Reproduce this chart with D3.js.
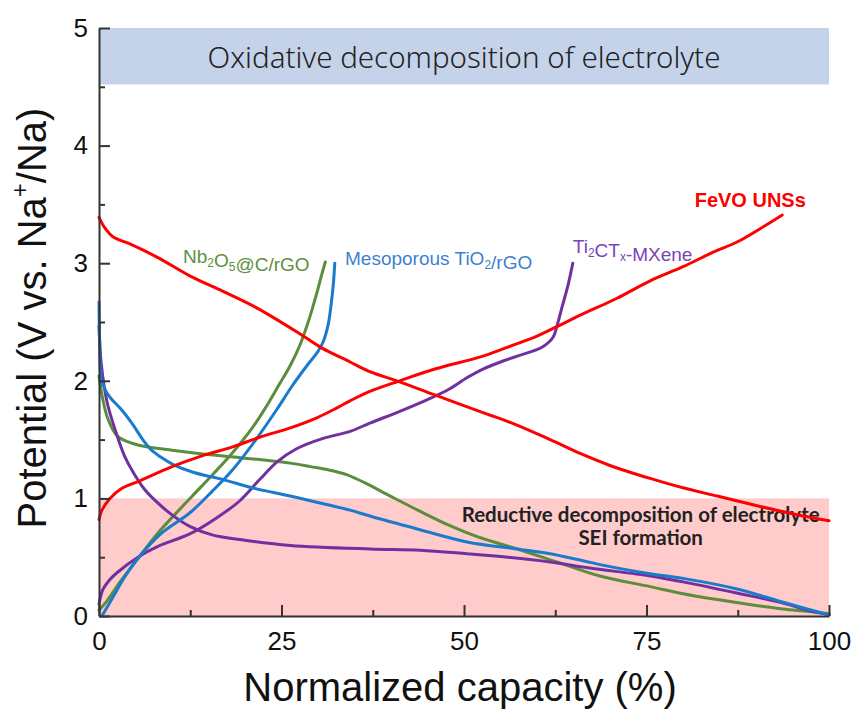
<!DOCTYPE html>
<html>
<head>
<meta charset="utf-8">
<script src="https://cdn.jsdelivr.net/npm/d3@7/dist/d3.min.js"></script>
<style>
  body { margin: 0; background: #fff; }
  svg { display: block; }
</style>
</head>
<body>
<div id="chart"></div>
<script>
// capacity (%) vs potential (V) pairs
const feVoDischarge = [[0,3.39],[0.8,3.30],[2,3.22],[4,3.17],[8,3.05],[12.5,2.89],[17,2.76],[21.6,2.62],[27.5,2.40],[30.5,2.28],[34.4,2.16],[37,2.08],[40.8,2.00],[46,1.88],[52.6,1.73],[57,1.63],[61.8,1.50],[66,1.38],[70,1.28],[75.5,1.17],[80,1.09],[84.7,1.02],[90,0.94],[95,0.87],[100,0.81]];
const feVoCharge = [[0,0.82],[0.4,0.90],[1.5,1.00],[3,1.08],[5.6,1.15],[10,1.27],[14,1.36],[18.4,1.44],[22,1.52],[26.2,1.60],[30,1.69],[32.6,1.77],[34.4,1.83],[37.1,1.91],[41.2,2.00],[46,2.10],[52.6,2.21],[57,2.31],[60,2.38],[62.7,2.46],[66,2.56],[70.9,2.70],[75.5,2.85],[80,2.97],[84,3.09],[87.4,3.18],[91,3.31],[93.6,3.41]];
const nbDischarge = [[0,2.04],[0.5,1.85],[1.2,1.68],[2.5,1.53],[4,1.48],[5.6,1.45],[10,1.41],[17,1.36],[22,1.33],[26.2,1.30],[29,1.27],[31.6,1.24],[34,1.20],[36.5,1.13],[39.9,1.02],[44,0.89],[48,0.77],[52,0.67],[57.3,0.57],[62.7,0.46],[68.6,0.34],[75.5,0.25],[80,0.19],[84.7,0.14],[90,0.09],[93.7,0.06],[97,0.04],[100,0.02]];
const nbCharge = [[0,0.05],[1,0.12],[3,0.30],[5.6,0.51],[8,0.70],[11.1,0.91],[14,1.10],[17.9,1.36],[21,1.60],[23,1.79],[24.7,1.97],[26.2,2.13],[27.5,2.30],[28.5,2.47],[29.3,2.63],[29.9,2.76],[30.5,2.90],[31,3.01]];
const tioDischarge = [[0,2.67],[0.1,2.30],[0.3,2.02],[0.8,1.93],[1.5,1.86],[3,1.76],[4.5,1.64],[6,1.50],[7.2,1.41],[8.5,1.35],[10.1,1.29],[13,1.22],[17,1.16],[21,1.09],[26.2,1.02],[31,0.95],[34.4,0.90],[37.1,0.85],[43.6,0.74],[50.4,0.63],[57.3,0.57],[61.8,0.53],[66.3,0.47],[70,0.42],[75.5,0.36],[80,0.32],[87.4,0.23],[93,0.13],[97,0.06],[100,0.01]];
const tioCharge = [[0.5,0.01],[2,0.17],[3.5,0.33],[5.6,0.51],[8.5,0.70],[12.5,0.88],[15.5,1.06],[18.4,1.25],[21.5,1.50],[24.4,1.76],[26.5,1.96],[28.5,2.13],[30,2.25],[30.7,2.33],[31.4,2.48],[31.8,2.65],[32.1,2.82],[32.3,3.00]];
const mxDischarge = [[0,2.47],[0.3,2.15],[1.1,1.82],[2.5,1.53],[3.5,1.36],[4.7,1.22],[6.2,1.08],[7.9,0.97],[10,0.86],[12.5,0.76],[15.5,0.69],[19.3,0.65],[26.2,0.60],[37.1,0.57],[44,0.56],[50.4,0.53],[56,0.50],[61.8,0.46],[67,0.41],[75.5,0.34],[80,0.29],[87,0.20],[93.7,0.11],[97,0.05],[100,0.01]];
const mxCharge = [[0,0.10],[0.5,0.22],[1.5,0.31],[2.5,0.37],[5.6,0.51],[8,0.59],[12.5,0.70],[16,0.83],[19.3,0.98],[22,1.16],[24.4,1.31],[27,1.42],[30.7,1.51],[34.4,1.57],[37.1,1.64],[41.2,1.74],[45,1.84],[48,1.93],[50.5,2.03],[52.6,2.10],[55,2.16],[57.3,2.21],[60.8,2.29],[62.2,2.37],[62.8,2.48],[63.4,2.62],[64.2,2.80],[64.9,3.00]];

const xTicks = [0, 25, 50, 75, 100];
const xMinor = [12.5, 37.5, 62.5, 87.5];
const yTicks = [0, 1, 2, 3, 4, 5];
const yMinor = [0.5, 1.5, 2.5, 3.5, 4.5];
const oxidBand = [4.52, 5];
const reducBand = [0, 1];

const W = 853, H = 709;
const x = d3.scaleLinear().domain([0, 100]).range([99, 829]);
const y = d3.scaleLinear().domain([0, 5]).range([616, 28]);

const svg = d3.select("#chart").append("svg")
  .attr("width", W).attr("height", H);

const sans = "Arial, 'Liberation Sans', sans-serif";

// shaded regions
svg.append("rect")
  .attr("x", x(0)).attr("width", x(100) - x(0))
  .attr("y", y(oxidBand[1])).attr("height", y(oxidBand[0]) - y(oxidBand[1]))
  .attr("fill", "#c5d3ea");
svg.append("rect")
  .attr("x", x(0)).attr("width", x(100) - x(0))
  .attr("y", y(reducBand[1])).attr("height", y(reducBand[0]) - y(reducBand[1]))
  .attr("fill", "#ffcbcb");

svg.append("text")
  .attr("x", x(50)).attr("y", y(4.76))
  .attr("text-anchor", "middle").attr("dominant-baseline", "central")
  .attr("font-family", "'Noto Sans', sans-serif").attr("font-weight", 300)
  .attr("font-size", 29.5).attr("fill", "#222")
  .text("Oxidative decomposition of electrolyte");

const red = svg.append("text")
  .attr("text-anchor", "middle")
  .attr("font-family", "Lato, 'Open Sans', sans-serif").attr("font-weight", 700)
  .attr("font-size", 20.5).attr("fill", "#222");
red.append("tspan").attr("x", x(74.2)).attr("y", y(0.80)).text("Reductive decomposition of electrolyte");
red.append("tspan").attr("x", x(74.2)).attr("y", y(0.60)).text("SEI formation");

// curves
const line = d3.line()
  .x(d => x(d[0])).y(d => y(d[1]))
  .curve(d3.curveCatmullRom.alpha(0.5));

const series = [
  { data: nbDischarge, color: "#5b8e3c" },
  { data: nbCharge, color: "#5b8e3c" },
  { data: mxDischarge, color: "#7030a0" },
  { data: mxCharge, color: "#7030a0" },
  { data: tioDischarge, color: "#1a7bcc" },
  { data: tioCharge, color: "#1a7bcc" },
  { data: feVoDischarge, color: "#ff0000" },
  { data: feVoCharge, color: "#ff0000" }
];

svg.append("g")
  .selectAll("path")
  .data(series)
  .join("path")
  .attr("d", d => line(d.data))
  .attr("fill", "none")
  .attr("stroke", d => d.color)
  .attr("stroke-width", 3)
  .attr("stroke-linejoin", "round")
  .attr("stroke-linecap", "round");

// axes, ticks pointing inward
const styleAxis = g => {
  g.selectAll(".domain").attr("stroke", "#333").attr("stroke-width", 2);
  g.selectAll(".tick line").attr("stroke", "#333").attr("stroke-width", 2);
  g.selectAll(".tick text").attr("font-family", sans).attr("font-size", 26).attr("fill", "#111");
};

svg.append("g")
  .attr("transform", `translate(0,${y(0)})`)
  .call(d3.axisBottom(x).tickValues(xMinor).tickSize(-6).tickFormat(""))
  .call(g => g.select(".domain").remove())
  .call(styleAxis);
svg.append("g")
  .attr("transform", `translate(${x(0)},0)`)
  .call(d3.axisLeft(y).tickValues(yMinor).tickSize(-6).tickFormat(""))
  .call(g => g.select(".domain").remove())
  .call(styleAxis);

svg.append("g")
  .attr("transform", `translate(0,${y(0)})`)
  .call(d3.axisBottom(x).tickValues(xTicks).tickSize(-11).tickSizeOuter(0).tickPadding(16).tickFormat(d3.format("d")))
  .call(styleAxis);
svg.append("g")
  .attr("transform", `translate(${x(0)},0)`)
  .call(d3.axisLeft(y).tickValues(yTicks).tickSize(-11).tickSizeOuter(0).tickPadding(11).tickFormat(d3.format("d")))
  .call(styleAxis);

// axis titles
svg.append("text")
  .attr("x", 460).attr("y", 701)
  .attr("text-anchor", "middle")
  .attr("font-family", sans).attr("font-size", 40).attr("fill", "#111")
  .text("Normalized capacity (%)");

const yt = svg.append("text")
  .attr("transform", `translate(46,318) rotate(-90)`)
  .attr("text-anchor", "middle")
  .attr("font-family", sans).attr("font-size", 40).attr("fill", "#111");
yt.append("tspan").text("Potential (V vs. Na");
yt.append("tspan").attr("font-size", 24).attr("dy", "-0.75em").text("+");
yt.append("tspan").attr("dy", "0.45em").text("/Na)");

// curve labels
const labelFont = (t, color) => t.attr("font-family", sans).attr("font-size", 19).attr("fill", color);
const sub = (t, s) => {
  t.append("tspan").attr("font-size", 12).attr("dy", 4).text(s);
  t.append("tspan").attr("dy", -4).text("");
};

const nbLabel = labelFont(svg.append("text").attr("x", x(11.5)).attr("y", y(3.0)), "#5e9040");
nbLabel.append("tspan").text("Nb");
sub(nbLabel, "2");
nbLabel.append("tspan").text("O");
sub(nbLabel, "5");
nbLabel.append("tspan").text("@C/rGO");

const tiLabel = labelFont(svg.append("text").attr("x", x(33.7)).attr("y", y(2.985)), "#3f7fd2");
tiLabel.append("tspan").text("Mesoporous TiO");
sub(tiLabel, "2");
tiLabel.append("tspan").text("/rGO");

const mxLabel = labelFont(svg.append("text").attr("x", x(64.9)).attr("y", y(3.09)), "#7a45b4");
mxLabel.append("tspan").text("Ti");
sub(mxLabel, "2");
mxLabel.append("tspan").text("CT");
sub(mxLabel, "x");
mxLabel.append("tspan").text("-MXene");

svg.append("text")
  .attr("x", x(81.6)).attr("y", y(3.48))
  .attr("font-family", sans).attr("font-size", 20).attr("font-weight", 700)
  .attr("fill", "#ff0000")
  .text("FeVO UNSs");
</script>
</body>
</html>
